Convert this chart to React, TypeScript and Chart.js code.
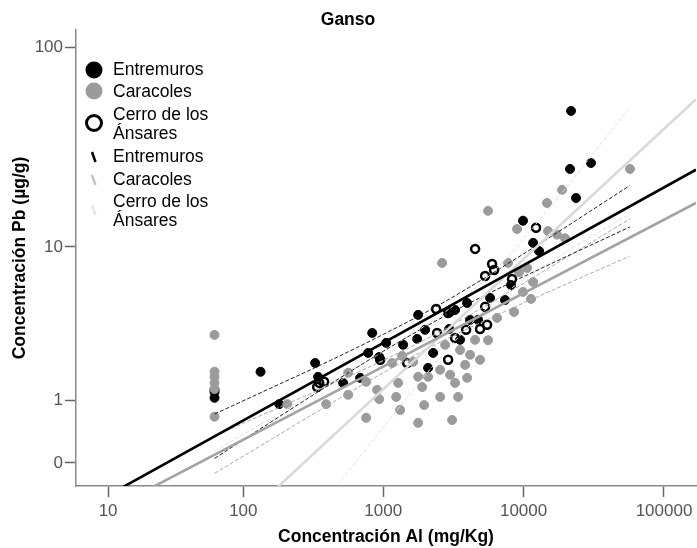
import { useEffect, useRef } from "react";
import { Chart, registerables } from "chart.js";

Chart.register(...registerables);

// Axis ticks (raw units; both axes are drawn on a log10(v + 1) scale)
const xTickValues = [10, 100, 1000, 10000, 100000];
const yTickValues = [0, 1, 10, 100];
const alRange = [5.5, 169000];
const pbRange = [-0.226, 121];

const chartTitle = "Ganso";
const xTitle = "Concentración Al (mg/Kg)";
const yTitle = "Concentración Pb (µg/g)";
const groupLines = [["Entremuros"], ["Caracoles"], ["Cerro de los", "Ánsares"]];

// Entremuros samples
const entremurosAl = [62, 62, 62, 133, 181, 327, 343, 518, 685, 835, 781, 937, 1050, 1387, 1775, 1746, 1990, 2089, 2269, 2999, 3252, 3963, 2950, 3530, 4159, 4743, 5776, 7379, 8144, 9908, 11690, 12890, 23640, 21420, 30200, 21780];
const entremurosPb = [1.25, 1.2, 1.06, 1.75, 0.92, 2.03, 1.6, 1.43, 1.57, 3.23, 2.39, 2.24, 2.79, 2.71, 4.17, 2.96, 3.38, 1.87, 2.39, 4.34, 4.46, 4.9, 3.42, 2.92, 3.89, 3.89, 5.24, 5.1, 6.2, 13.7, 10.5, 9.5, 17.9, 25.1, 26.9, 48.7];

// Caracoles samples
const caracolesAl = [62, 62, 62, 62, 62, 62, 207, 392, 563, 563, 756, 756, 905, 937, 1238, 1321, 1279, 1775, 1958, 1896, 1775, 1158, 1365, 1636, 2089, 2545, 2629, 2762, 2999, 3252, 3530, 3836, 4159, 4518, 3418, 2545, 3098, 4897, 3963, 5585, 5585, 6474, 7755, 8554, 8983, 9282, 9908, 10590, 11300, 11690, 14690, 14930, 17300, 18790, 19730, 57280];
const caracolesPb = [3.14, 1.75, 1.6, 1.43, 1.27, 0.67, 0.92, 0.92, 1.72, 1.13, 1.46, 0.65, 1.25, 1.03, 1.08, 0.8, 1.43, 0.56, 0.9, 1.32, 1.6, 2.03, 2.28, 2.07, 1.6, 1.08, 8.2, 2.71, 1.66, 1.43, 2.5, 1.97, 2.32, 2.92, 1.08, 1.81, 0.61, 2.14, 1.57, 2.9, 15.4, 4.0, 8.2, 4.34, 12.4, 7.3, 5.67, 7.7, 5.17, 6.45, 16.9, 12.1, 11.6, 19.7, 11.1, 25.1];

// Cerro de los Ánsares samples
const cerroAl = [350, 379, 338, 952, 1482, 2383, 2421, 2901, 2901, 3252, 3899, 4518, 4897, 5496, 5321, 5321, 5967, 6165, 8279, 12270];
const cerroPb = [1.43, 1.46, 1.32, 2.14, 2.03, 4.52, 3.23, 2.14, 4.28, 3.0, 3.38, 9.75, 3.42, 3.63, 4.65, 6.96, 8.1, 7.5, 6.7, 12.6];

// Fitted lines, given at the ends of the Al axis
const fitAl = [5.5, 169000];
const entremurosFitPb = [-0.427, 24.9];
const caracolesFitPb = [-0.51, 16.9];
const cerroFitPb = [-0.904, 55.6];

// 95% confidence bands of the fitted means
const ciAl = [62, 150, 400, 1000, 2500, 6000, 15000, 57000];
const entremurosUpper = [0.72, 1.26, 2.07, 3.16, 4.77, 7.21, 11.1, 20.7];
const entremurosLower = [0.05, 0.54, 1.35, 2.45, 3.93, 5.69, 7.99, 12.7];
const caracolesUpper = [0.35, 0.75, 1.35, 2.12, 3.26, 4.98, 7.66, 13.96];
const caracolesLower = [-0.11, 0.27, 0.89, 1.72, 2.8, 4.04, 5.66, 8.92];
const cerroUpper = [0.14, 0.61, 1.38, 2.44, 4.09, 7.25, 15.7, 50.7];
const cerroLower = [-0.86, -0.7, -0.32, 0.48, 2.17, 4.87, 8.16, 14.85];

const BLACK = "#000000";
const GREY = "#9b9b9b";
const LIGHT = "#d9d9d9";
const FONT = "'Liberation Sans', Arial, sans-serif";

const tr = (v: number) => Math.log10(v + 1);
const pts = (xs: number[], ys: number[]) => xs.map((x, i) => ({ x: tr(x), y: tr(ys[i]) }));

const lineSet = (xs: number[], ys: number[], color: string, width: number, dashed: boolean) => ({
  data: pts(xs, ys),
  showLine: true,
  borderColor: color,
  borderWidth: width,
  borderDash: dashed ? [4, 2] : [],
  pointRadius: 0,
  fill: false,
  cubicInterpolationMode: "monotone" as const,
  clip: 0,
  order: 1,
});

const textPlugin = {
  id: "gansoText",
  afterDraw(chart: any) {
    const ctx = chart.ctx as CanvasRenderingContext2D;
    const a = chart.chartArea;
    ctx.save();
    ctx.fillStyle = "#000";
    ctx.textAlign = "center";
    ctx.textBaseline = "middle";
    ctx.font = `bold 17.5px ${FONT}`;
    ctx.fillText(chartTitle, 348, 20);
    ctx.fillText(xTitle, (a.left + a.right) / 2, 537);
    ctx.save();
    ctx.translate(20, (a.top + a.bottom) / 2);
    ctx.rotate(-Math.PI / 2);
    ctx.fillText(yTitle, 0, 0);
    ctx.restore();

    // legend: markers for the samples, then for the fitted lines
    const mx = 94;
    const tx = 113;
    ctx.font = `17.5px ${FONT}`;
    ctx.textAlign = "left";
    const pointRows = [
      { y: 70, lines: [70] },
      { y: 91, lines: [92] },
      { y: 123, lines: [115, 134] },
    ];
    const lineRows = [
      { y: 157, lines: [157] },
      { y: 180, lines: [180] },
      { y: 210, lines: [202, 221] },
    ];
    const markerColors = [BLACK, GREY, BLACK];
    pointRows.forEach((r, i) => {
      ctx.beginPath();
      if (i === 2) {
        ctx.arc(mx, r.y, 7.5, 0, Math.PI * 2);
        ctx.lineWidth = 3;
        ctx.strokeStyle = BLACK;
        ctx.stroke();
      } else {
        ctx.arc(mx, r.y, 8.5, 0, Math.PI * 2);
        ctx.fillStyle = markerColors[i];
        ctx.fill();
      }
      ctx.fillStyle = "#000";
      groupLines[i].forEach((t, j) => ctx.fillText(t, tx, r.lines[j]));
    });
    const lineColors = [BLACK, "#c4c4c4", "#e6e6e6"];
    lineRows.forEach((r, i) => {
      ctx.beginPath();
      ctx.moveTo(mx - 2, r.y - 5);
      ctx.lineTo(mx + 1.5, r.y + 5);
      ctx.lineWidth = 2.5;
      ctx.strokeStyle = lineColors[i];
      ctx.stroke();
      ctx.fillStyle = "#000";
      groupLines[i].forEach((t, j) => ctx.fillText(t, tx, r.lines[j]));
    });
    ctx.restore();
  },
};

export default function App() {
  const ref = useRef<HTMLCanvasElement | null>(null);

  useEffect(() => {
    if (!ref.current) return;
    const tickFont = { family: FONT, size: 17 };
    const chart = new Chart(ref.current, {
      type: "scatter",
      data: {
        datasets: [
          lineSet(fitAl, entremurosFitPb, BLACK, 2.6, false),
          lineSet(fitAl, caracolesFitPb, "#a3a3a3", 2.6, false),
          lineSet(fitAl, cerroFitPb, LIGHT, 2.6, false),
          lineSet(ciAl, entremurosUpper, "#222", 1, true),
          lineSet(ciAl, entremurosLower, "#222", 1, true),
          lineSet(ciAl, caracolesUpper, "#aaaaaa", 1, true),
          lineSet(ciAl, caracolesLower, "#aaaaaa", 1, true),
          lineSet(ciAl, cerroUpper, "#e0e0e0", 1, true),
          lineSet(ciAl, cerroLower, "#e0e0e0", 1, true),
          {
            data: pts(caracolesAl, caracolesPb),
            backgroundColor: GREY,
            borderColor: GREY,
            borderWidth: 1,
            pointRadius: 4.5,
            order: 2,
          },
          {
            data: pts(entremurosAl, entremurosPb),
            backgroundColor: BLACK,
            borderColor: BLACK,
            borderWidth: 1,
            pointRadius: 4.5,
            order: 2,
          },
          {
            data: pts(cerroAl, cerroPb),
            backgroundColor: "rgba(255,255,255,0)",
            borderColor: BLACK,
            borderWidth: 2.5,
            pointRadius: 4,
            order: 2,
          },
        ],
      },
      options: {
        animation: false,
        responsive: false,
        devicePixelRatio: 1,
        events: [],
        layout: { autoPadding: false, padding: { top: 30, right: 1, left: 0, bottom: 0 } },
        plugins: { legend: { display: false }, tooltip: { enabled: false }, title: { display: false } },
        scales: {
          x: {
            type: "linear",
            min: tr(alRange[0]),
            max: tr(alRange[1]),
            afterFit: (s: any) => {
              s.height = 62;
              s.paddingLeft = 0;
              s.paddingRight = 0;
            },
            afterBuildTicks: (s: any) => {
              s.ticks = xTickValues.map((v) => ({ value: tr(v) }));
            },
            ticks: {
              autoSkip: false,
              maxRotation: 0,
              padding: 4,
              color: "#555",
              font: tickFont,
              callback: (_v: any, i: number) => String(xTickValues[i]),
            },
            grid: { drawOnChartArea: false, tickLength: 11, color: "#666", tickWidth: 1.5 },
            border: { display: true, color: "#8a8a8a", width: 1.5 },
          },
          y: {
            type: "linear",
            min: tr(pbRange[0]),
            max: tr(pbRange[1]),
            afterFit: (s: any) => {
              s.width = 76;
              s.paddingTop = 0;
              s.paddingBottom = 0;
            },
            afterBuildTicks: (s: any) => {
              s.ticks = yTickValues.map((v) => ({ value: tr(v) }));
            },
            ticks: {
              autoSkip: false,
              padding: 2,
              color: "#555",
              font: tickFont,
              callback: (_v: any, i: number) => String(yTickValues[i]),
            },
            grid: { drawOnChartArea: false, tickLength: 11, color: "#666", tickWidth: 1.5 },
            border: { display: true, color: "#8a8a8a", width: 1.5 },
          },
        },
      },
      plugins: [textPlugin],
    });
    return () => chart.destroy();
  }, []);

  return (
    <div style={{ position: "absolute", left: 0, top: 0, width: 697, height: 548, background: "#fff" }}>
      <canvas ref={ref} width={697} height={548} />
    </div>
  );
}
